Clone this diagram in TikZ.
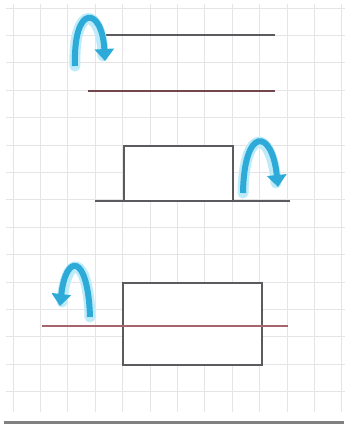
\documentclass[tikz,border=0pt]{standalone}
\usepackage{tikz}
\usetikzlibrary{arrows.meta, calc}
\definecolor{foldblue}{RGB}{45,170,215}
\definecolor{foldglow}{RGB}{190,235,250}
\definecolor{pencil}{RGB}{90,90,95}
\definecolor{redline}{RGB}{165,100,110}

\begin{document}
\begin{tikzpicture}[x=1pt, y=-1pt,
    gridline/.style={draw=black!10, line width=0.8pt},
    edgeline/.style={draw=pencil, line width=1.5pt},
    foldglowline/.style={draw=foldglow, line width=11pt, line cap=round},
    foldarrow/.style={draw=foldblue, line width=6pt, -{Triangle[width=19pt,length=12pt]}}]
  \useasboundingbox (0,0) rectangle (348,425);
  \fill[white] (0,0) rectangle (348,425);
  % squared paper
  \foreach \i in {0,...,12}
    \draw[gridline] (13+27.4*\i,4) -- (13+27.4*\i,412);
  \foreach \j in {0,...,14}
    \draw[gridline] (6,8+27.4*\j) -- (345,8+27.4*\j);
  \draw[draw=black!50, line width=3pt] (4,422) -- (344,422);
  % first pair of lines
  \coordinate (a1) at (95,35);
  \coordinate (a2) at (275,35);
  \coordinate (b1) at (88,91);
  \coordinate (b2) at (275,91);
  \draw[edgeline] (a1) -- (a2);
  \draw[edgeline, draw=redline!70!black] (b1) -- (b2);
  % second figure
  \coordinate (r1) at (124,146);
  \coordinate (r2) at (233,201);
  \coordinate (l1) at (95,201);
  \coordinate (l2) at (290,201);
  \draw[edgeline, fill=white] (r1) rectangle (r2);
  \draw[edgeline] (l1) -- (l2);
  % third figure
  \coordinate (s1) at (123,283);
  \coordinate (s2) at (262,365);
  \coordinate (m1) at (42,326);
  \coordinate (m2) at (288,326);
  \draw[edgeline, fill=white] (s1) rectangle (s2);
  \draw[edgeline, draw=redline, line width=1.2pt] (m1) -- (m2);
  % turning arrows
  \draw[foldglowline] (75,66) .. controls (73,3) and (102,6) .. (103,56);
  \draw[foldarrow] (75,66) .. controls (73,3) and (102,6) .. (105,61);
  \draw[foldglowline] (243,193) .. controls (244,126) and (272,128) .. (276,183);
  \draw[foldarrow] (243,193) .. controls (244,126) and (272,128) .. (278,187);
  \draw[foldglowline] (90,317) .. controls (88,253) and (66,253) .. (62,302);
  \draw[foldarrow] (90,317) .. controls (88,253) and (66,253) .. (60,306);
\end{tikzpicture}
\end{document}
